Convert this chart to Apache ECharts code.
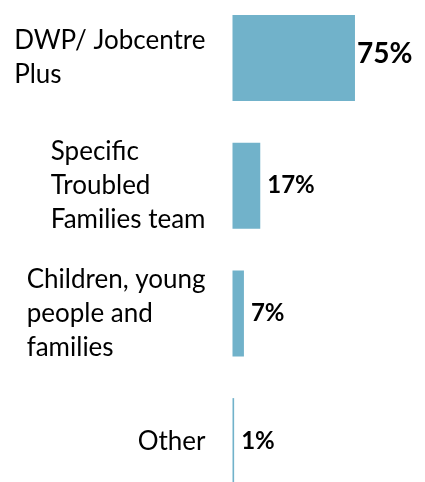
<!DOCTYPE html>
<html>
<head>
<meta charset="utf-8">
<script src="https://cdn.jsdelivr.net/npm/echarts@6/dist/echarts.min.js"></script>
<style>
html,body{margin:0;padding:0;background:#fff;}
#c{width:425px;height:482px;}
</style>
</head>
<body>
<div id="c"></div>
<script>
const categories = ['DWP/ Jobcentre\nPlus', 'Specific\nTroubled\nFamilies team', 'Children, young\npeople and\nfamilies', 'Other'];
const values = [75, 17, 7, 1];

const labelOverrides = [{ fontSize: 28, distance: 2, offset: [0, -4] }, {}, {}, {}];

const chart = echarts.init(document.getElementById('c'));
chart.setOption({
  backgroundColor: '#fff',
  animation: false,
  grid: { left: 232.5, width: 163.3, top: -6, height: 511, outerBoundsMode: 'none', containLabel: false },
  xAxis: {
    type: 'value', min: 0, max: 100,
    show: false
  },
  yAxis: {
    type: 'category',
    data: categories,
    inverse: true,
    axisLine: { show: false },
    axisTick: { show: false },
    splitLine: { show: false },
    axisLabel: {
      align: 'right',
      margin: 27,
      formatter: function (v) {
        return v.split('\n').map(function (l) { return '{a|' + l + '}'; }).join('\n');
      },
      rich: {
        a: { align: 'left', fontSize: 26, lineHeight: 34, fontFamily: 'Lato', color: '#000' }
      }
    }
  },
  series: [{
    type: 'bar',
    barWidth: 86,
    itemStyle: { color: '#71B2CA' },
    label: {
      show: true,
      position: 'right',
      distance: 7,
      formatter: '{c}%',
      fontFamily: 'Lato',
      fontWeight: 'bold',
      fontSize: 24,
      color: '#000'
    },
    data: values.map(function (v, i) {
      return { value: v, label: labelOverrides[i] };
    })
  }]
});
</script>
</body>
</html>
